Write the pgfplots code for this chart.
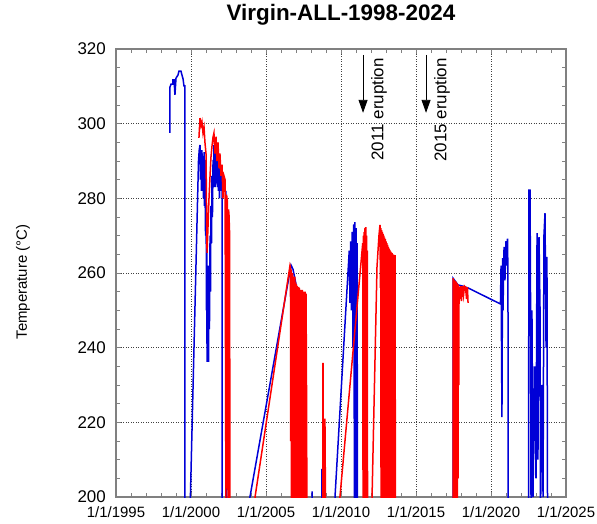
\documentclass[border=0pt]{standalone}
\usepackage{fontspec}
\setmainfont{Liberation Sans}
\usepackage{pgfplots}
\usepackage{pgfplotstable}
\pgfplotsset{compat=1.18}
\usetikzlibrary{arrows.meta}

\definecolor{myblue}{RGB}{0,0,215}
\definecolor{myred}{RGB}{255,0,0}
\definecolor{axisgray}{RGB}{128,128,128}

\pgfplotstableread{
x y
1998.6 297.5
1998.6 309.8
1998.67 310.6
1998.8 310.6
1998.8 311.7
1998.87 311.7
1998.93 307.7
1999.0 312.2
1999.13 313.0
1999.2 314.1
1999.33 314.1
1999.4 313.0
1999.47 312.0
1999.53 310.1
1999.6 310.1
1999.6 195
1999.93 195
2000.5 290
2000.55 293
2000.6 294.3
2000.63 285
2000.67 290
2000.7 282
2000.73 292.9
2000.77 283
2000.8 289
2000.83 280
2000.87 292.4
2000.9 278
2000.93 285
2000.97 270
2001.0 290.3
2001.03 250
2001.05 266
2001.07 236.2
2001.1 262
2001.13 240
2001.15 258
2001.17 236.2
2001.2 262
2001.23 245
2001.27 270
2001.3 255
2001.33 278
2001.37 268
2001.4 286
2001.43 275
2001.47 290.3
2001.5 283
2001.53 294.3
2001.57 284
2001.6 290
2001.63 283
2001.67 294.8
2001.7 285
2001.73 291
2001.77 283
2001.8 292.9
2001.83 282
2001.87 287
2001.9 280
2001.93 288.9
2001.97 282
2002.0 286
2002.07 284.9
2002.07 195
2002.33 195
2002.33 282
2002.37 195
2003.93 195
2003.93 200
2006.67 262.1
2006.8 261
2006.9 259
2007.0 257
2007.07 256
2007.1 195
2008.07 195
2008.07 201.5
2008.1 195
2008.73 195
2008.73 207.5
2008.77 195
2009.6 195
2009.6 200
2010.55 266
2010.6 252
2010.65 268.5
2010.7 250
2010.75 271
2010.8 240
2010.85 273
2010.9 195
2010.93 273.6
2010.97 195
2011.0 272
2011.03 195
2011.07 268
2011.1 195
2017.47 195
2017.47 258.6
2017.8 256.8
2018.1 256.5
2018.47 256
2020.63 251.7
2020.67 262
2020.73 221.4
2020.77 264
2020.8 250
2020.87 267
2020.93 258
2021.0 268.5
2021.07 262
2021.1 269.2
2021.13 260
2021.15 195
2022.5 195
2022.53 282.2
2022.6 282.2
2022.63 260
2022.67 195
2022.73 250
2022.8 200
2022.9 235
2023.0 205
2023.07 270.7
2023.1 240
2023.13 210
2023.2 269.6
2023.27 250
2023.3 195
2023.4 230
2023.47 200
2023.53 270
2023.6 276
2023.67 240
2023.73 264.3
2023.77 195
}\bluedata

\pgfplotstableread{
x y
2000.53 296.2
2000.6 301.5
2000.67 299.5
2000.73 300.5
2000.8 297.5
2000.87 299
2000.93 295
2001.0 292
2001.03 280
2001.07 265.4
2001.13 272
2001.2 280
2001.27 286
2001.33 291
2001.4 294
2001.47 296.4
2001.53 297.5
2001.6 292
2001.67 296.5
2001.73 290
2001.8 295
2001.87 288
2001.93 292
2002.0 286
2002.07 289
2002.13 280
2002.2 286
2002.27 285
2002.33 195
2002.37 281
2002.43 279
2002.47 195
2002.5 277
2002.53 276
2002.57 271
2002.6 195
2004.27 195
2004.27 200
2006.6 262
2006.63 261.5
2006.65 215
2006.67 261
2006.7 195
2006.73 259.5
2006.75 220
2006.77 260
2006.8 195
2006.83 259
2006.85 217
2006.87 258.5
2006.9 195
2006.93 259
2006.95 218
2006.97 257.5
2007.0 195
2007.03 257
2007.05 216
2007.07 256.5
2007.1 195
2007.13 256
2007.15 218
2007.17 256.3
2007.2 195
2007.23 256
2007.25 217
2007.27 255.5
2007.3 195
2007.33 255.5
2007.35 220
2007.37 255
2007.4 195
2007.43 255.5
2007.45 218
2007.47 255
2007.5 195
2007.53 254.9
2007.57 216
2007.6 255
2007.63 195
2007.67 254.5
2007.7 230
2007.73 195
2008.8 195
2008.8 235.9
2008.83 195
2008.93 195
2008.93 221
2008.97 195
2009.93 195
2009.93 200
2011.45 268
2011.47 195
2011.5 270
2011.52 210
2011.55 271
2011.57 195
2011.6 272
2011.62 220
2011.65 272.3
2011.67 195
2011.7 270
2011.72 195
2011.75 266
2011.77 195
2012.07 195
2012.07 200
2012.4 261.6
2012.53 270
2012.6 272.9
2012.63 256
2012.65 272
2012.67 195
2012.7 271.5
2012.72 256
2012.75 271
2012.77 195
2012.8 270.5
2012.82 230
2012.85 270
2012.87 195
2012.9 269.5
2012.92 210
2012.95 269.1
2012.97 195
2013.0 268.5
2013.02 220
2013.05 268
2013.07 195
2013.1 267.5
2013.12 205
2013.15 267
2013.17 195
2013.2 266.5
2013.22 215
2013.25 266.2
2013.27 195
2013.3 265.8
2013.32 205
2013.35 265.5
2013.37 195
2013.4 265.3
2013.42 210
2013.45 265
2013.47 195
2013.5 264.9
2013.52 200
2013.55 264.8
2013.57 195
2013.6 264.8
2013.63 195
2017.47 195
2017.47 258.6
2017.5 195
2017.52 258.2
2017.55 195
2017.57 258
2017.6 200
2017.62 257.8
2017.65 195
2017.67 257.6
2017.7 215
2017.72 257.3
2017.75 195
2017.77 257
2017.8 205
2017.82 256.8
2017.85 230
2017.87 256.2
2017.9 253
2017.97 256.5
2018.03 252.5
2018.1 256.5
2018.17 254
2018.23 256.5
2018.3 256.2
2018.37 253
2018.43 256.2
2018.47 252
}\reddata

\begin{document}
\begin{tikzpicture}
\begin{axis}[
  scale only axis, width=450bp, height=448bp,
  xmin=1995, xmax=2025, ymin=200, ymax=320,
  xtick={1995,2000,2005,2010,2015,2020,2025},
  xticklabels={1/1/1995,1/1/2000,1/1/2005,1/1/2010,1/1/2015,1/1/2020,1/1/2025},
  minor x tick num=4,
  ytick={200,220,240,260,280,300,320},
  minor y tick num=3,
  tick align=inside,
  major tick length=5bp, minor tick length=4bp,
  axis line style={axisgray, line width=1.2bp},
  every tick/.style={axisgray, line width=0.9bp},
  grid=major,
  major grid style={black!75, line width=0.8bp, dash pattern=on 0.9bp off 1.6bp},
  /pgf/number format/assume math mode=true,
  yticklabel style={font=\fontsize{17}{17}\selectfont, anchor=east, inner sep=0pt, xshift=-10bp},
  xticklabel style={font=\fontsize{15}{15}\selectfont, anchor=base, inner sep=0pt, yshift=-21bp},
  title={Virgin-ALL-1998-2024},
  title style={font=\fontsize{22.5}{26}\selectfont\bfseries, at={(axis description cs:0.5,1)}, anchor=base, yshift=23bp},
  ylabel={Temperature (°C)},
  ylabel style={font=\fontsize{15}{15}\selectfont, at={(axis description cs:-0.198,0.48)}, anchor=base, inner sep=0pt},
  clip bounding box=upper bound,
]
\addplot[myblue, line width=1.5bp] table[x=x,y=y] {\bluedata};
\addplot[myred, line width=1.5bp] table[x=x,y=y] {\reddata};
\draw[black, line width=0.9bp, -{Triangle[width=9bp,length=13bp]}] (axis cs:2011.47,318.4) -- (axis cs:2011.47,302.9);
\draw[black, line width=0.9bp, -{Triangle[width=9bp,length=13bp]}] (axis cs:2015.67,318.4) -- (axis cs:2015.67,302.9);
\node[rotate=90, anchor=east, inner sep=0pt, font=\fontsize{17}{17}\selectfont] at (axis cs:2012.53,317.6) {2011 eruption};
\node[rotate=90, anchor=east, inner sep=0pt, font=\fontsize{17}{17}\selectfont] at (axis cs:2016.73,317.6) {2015 eruption};
\coordinate (O) at (rel axis cs:0,0);
\end{axis}
\path ([shift={(-116bp,-27bp)}]O) rectangle ++(597bp,524bp);
\end{tikzpicture}
\end{document}
